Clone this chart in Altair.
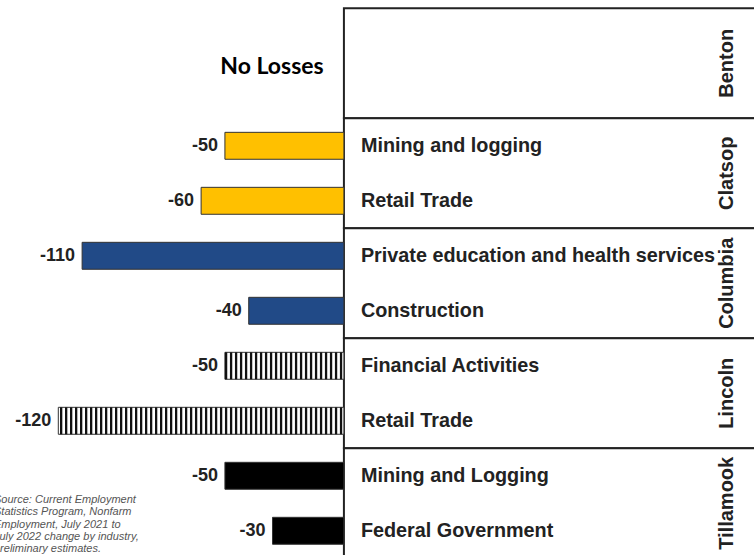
import altair as alt
import pandas as pd
import numpy as np

# ---- data ----
counties = ["Benton", "Clatsop", "Columbia", "Lincoln", "Tillamook"]
county_fill = ["#ffffff", "#ffc000", "#214a87", "#ffffff", "#000000"]
industries = [
    "Mining and logging", "Retail Trade",
    "Private education and health services", "Construction",
    "Financial Activities", "Retail Trade",
    "Mining and Logging", "Federal Government",
]
industry_county = ["Clatsop", "Clatsop", "Columbia", "Columbia",
                   "Lincoln", "Lincoln", "Tillamook", "Tillamook"]
changes = [-50, -60, -110, -40, -50, -120, -50, -30]
striped_county = "Lincoln"
empty_note = "No Losses"
source_lines = [
    "Source: Current Employment",
    "Statistics Program, Nonfarm",
    "Employment, July 2021 to",
    "July 2022 change by industry,",
    "preliminary estimates.",
]

FONT = "Liberation Sans"
X_DOM = [-144.5, 172.3]
Y_DOM = [-0.151, 9.94]

# ---- tables ----
groups = pd.DataFrame({
    "county": counties,
    "y0": [2 * i for i in range(len(counties))],
    "y1": [2 * i + 2 for i in range(len(counties))],
    "x0": 0,
    "x1": 200,
})
groups["yc"] = groups["y0"] + 1

row0 = 2  # first data row sits below the Benton group
bars = pd.DataFrame({
    "industry": industries,
    "county": industry_county,
    "v": changes,
})
bars["r"] = row0 + np.arange(len(bars)) + 0.5
bars["ya"] = bars["r"] - 0.245
bars["yb"] = bars["r"] + 0.245
bars["zero"] = 0
bars["label"] = bars["v"].astype(str)

stripe_rows = []
for _, b in bars[bars["county"] == striped_county].iterrows():
    for xv in np.arange(-1.2, b["v"], -2.1):
        stripe_rows.append({"x": xv, "ya": b["ya"], "yb": b["yb"]})
stripes = pd.DataFrame(stripe_rows)

xs = alt.Scale(domain=X_DOM, nice=False, zero=False)
ys = alt.Scale(domain=Y_DOM, nice=False, zero=False, reverse=True)

box = alt.Chart(groups).mark_rect(fill="white", stroke="#222", strokeWidth=2, clip=True).encode(
    x=alt.X("x0:Q", scale=xs, axis=None), x2="x1:Q",
    y=alt.Y("y0:Q", scale=ys, axis=None), y2="y1:Q",
)

barl = alt.Chart(bars).mark_rect(stroke="#333", strokeWidth=1).encode(
    x=alt.X("v:Q", scale=xs, axis=None), x2="zero:Q",
    y=alt.Y("ya:Q", scale=ys, axis=None), y2="yb:Q",
    fill=alt.Fill("county:N", scale=alt.Scale(domain=counties, range=county_fill), legend=None),
)

stripel = alt.Chart(stripes).mark_rule(color="#111", strokeWidth=2.3).encode(
    x=alt.X("x:Q", scale=xs, axis=None),
    y=alt.Y("ya:Q", scale=ys, axis=None), y2="yb:Q",
)

vals = alt.Chart(bars).mark_text(align="right", baseline="middle", dx=-7, fontSize=18,
                                 fontWeight="bold", font=FONT, color="#222").encode(
    x=alt.X("v:Q", scale=xs, axis=None),
    y=alt.Y("r:Q", scale=ys, axis=None),
    text="label:N",
)

inds = alt.Chart(bars).mark_text(align="left", baseline="middle", dx=17, fontSize=19.8,
                                 fontWeight="bold", font=FONT, color="#222").encode(
    x=alt.X("zero:Q", scale=xs, axis=None),
    y=alt.Y("r:Q", scale=ys, axis=None),
    text="industry:N",
)

cnty = alt.Chart(groups).mark_text(align="center", baseline="middle", angle=270, fontSize=20,
                                   fontWeight="bold", font=FONT, color="#222").encode(
    x=alt.value(727),
    y=alt.Y("yc:Q", scale=ys, axis=None),
    text="county:N",
)

note = alt.Chart(pd.DataFrame({"t": [empty_note]})).mark_text(
    align="center", baseline="middle", fontSize=23, fontWeight="bold", font="Lato", color="#000"
).encode(x=alt.value(272), y=alt.value(67), text="t:N")

src = alt.Chart(pd.DataFrame({"t": ["\n".join(source_lines)]})).mark_text(
    align="left", baseline="top", fontSize=11, fontStyle="italic", font=FONT,
    color="#555", lineBreak="\n", lineHeight=12.3
).encode(x=alt.value(-6), y=alt.value(494), text="t:N")

chart = alt.layer(box, barl, stripel, vals, inds, cnty, note, src).properties(
    width=754, height=555,
    autosize=alt.AutoSizeParams(type="none"),
    padding=0,
).configure_view(stroke=None)

chart.save("out.html", embed_options={"renderer": "svg", "actions": False})
